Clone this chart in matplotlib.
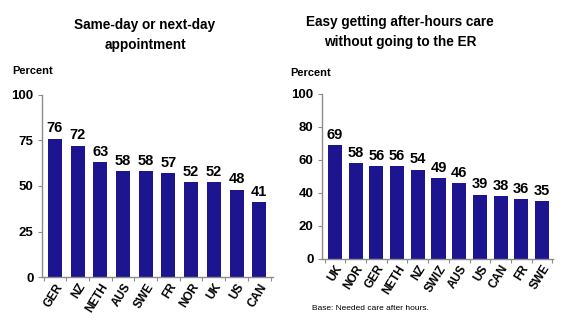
import numpy as np
import matplotlib
matplotlib.use('Agg')
import matplotlib.pyplot as plt

plt.rcParams['font.family'] = ['Liberation Sans', 'DejaVu Sans']

BAR = '#1d1490'
AXIS = '#8c8c8c'

left_title = 'Same-day or next-day\nappointment'
left_labels = ['GER', 'NZ', 'NETH', 'AUS', 'SWE', 'FR', 'NOR', 'UK', 'US', 'CAN']
left_values = [76, 72, 63, 58, 58, 57, 52, 52, 48, 41]
left_ticks = [0, 25, 50, 75, 100]

right_title = 'Easy getting after-hours care\nwithout going to the ER'
right_labels = ['UK', 'NOR', 'GER', 'NETH', 'NZ', 'SWIZ', 'AUS', 'US', 'CAN', 'FR', 'SWE']
right_values = [69, 58, 56, 56, 54, 49, 46, 39, 38, 36, 35]
right_ticks = [0, 20, 40, 60, 80, 100]


def panel(ax, labels, values, ticks, width, xlim):
    x = np.arange(len(values))
    ax.bar(x, values, width=width, color=BAR, zorder=2)
    for xi, v in zip(x, values):
        ax.text(xi, v + 2, str(v), ha='center', va='bottom',
                fontsize=10.5, fontweight='bold')
    ax.set_xlim(*xlim)
    ax.set_ylim(0, 100)
    ax.set_yticks(ticks)
    ax.set_yticklabels([str(t) for t in ticks], fontsize=9.5, fontweight='bold')
    # category ticks sit between the bars
    ax.set_xticks(np.arange(len(values) + 1) - 0.5)
    ax.set_xticklabels([])
    ax.set_xticks(x, minor=True)
    ax.set_xticklabels(labels, minor=True, rotation=58, ha='right',
                       rotation_mode='anchor', fontsize=8.5, fontweight='bold')
    ax.tick_params(axis='x', which='minor', length=0, pad=3)
    ax.tick_params(axis='x', which='major', length=3, color=AXIS)
    ax.tick_params(axis='y', length=3, color=AXIS, pad=3)
    for s in ['top', 'right']:
        ax.spines[s].set_visible(False)
    for s in ['left', 'bottom']:
        ax.spines[s].set_color(AXIS)
        ax.spines[s].set_linewidth(1.0)


fig = plt.figure(figsize=(5.7, 3.26), dpi=100)

ax1 = fig.add_axes([0.0737, 0.150, 0.405, 0.559])
panel(ax1, left_labels, left_values, left_ticks, 0.62, (-0.57, 9.6))

ax2 = fig.add_axes([0.565, 0.206, 0.405, 0.506])
panel(ax2, right_labels, right_values, right_ticks, 0.68, (-0.63, 10.53))

fig.text(145 / 570, 1 - 35 / 326, left_title, ha='center', va='center',
         fontsize=9.8, fontweight='bold', linespacing=1.5)
fig.text(400 / 570, 1 - 32 / 326, right_title, ha='center', va='center',
         fontsize=9.8, fontweight='bold', linespacing=1.5)
fig.text(12 / 570, 1 - 71 / 326, 'Percent', ha='left', va='center',
         fontsize=8, fontweight='bold')
fig.text(290 / 570, 1 - 73 / 326, 'Percent', ha='left', va='center',
         fontsize=8, fontweight='bold')
fig.text(312 / 570, 1 - 308 / 326, 'Base: Needed care after hours.',
         ha='left', va='center', fontsize=6)

fig.savefig('out.png', dpi=100)
